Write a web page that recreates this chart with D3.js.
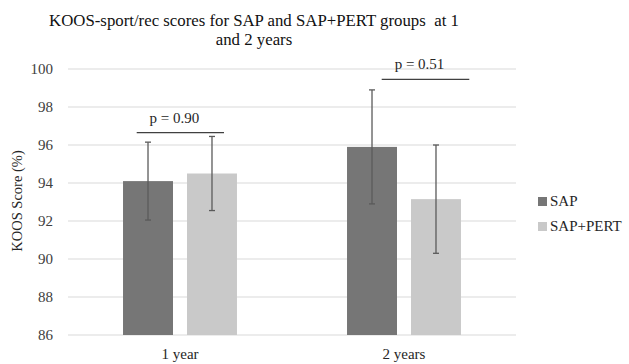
<!DOCTYPE html>
<html>
<head>
<meta charset="utf-8">
<script src="https://cdn.jsdelivr.net/npm/d3@7"></script>
<style>
  body { margin: 0; background: #fff; }
  svg text { font-family: "Liberation Serif", "Times New Roman", Tinos, "DejaVu Serif", serif !important; }
</style>
</head>
<body>
<div id="chart"></div>
<script>
// data
const categories = ["1 year", "2 years"];
const series = ["SAP", "SAP+PERT"];
const sapMeans = [94.1, 95.9];
const sapErr = [2.05, 3.0];
const pertMeans = [94.5, 93.15];
const pertErr = [1.95, 2.85];
const yTicks = [86, 88, 90, 92, 94, 96, 98, 100];
const pLabels = ["p = 0.90", "p = 0.51"];
const pLevels = [96.65, 99.45];
const pLineFrom = [136.7, 381.7];
const pLineTo = [224, 469.3];

const colors = { "SAP": "#767676", "SAP+PERT": "#c9c9c9" };

const width = 629,
  height = 364;
const plot = { left: 68, right: 516, top: 69, bottom: 335 };

const svg = d3
  .select("#chart")
  .append("svg")
  .attr("width", width)
  .attr("height", height);

const y = d3.scaleLinear().domain([86, 100]).range([plot.bottom, plot.top]);
const x0 = d3.scaleBand().domain(categories).range([plot.left, plot.right]);
const x1 = d3
  .scaleBand()
  .domain(series)
  .range([0, x0.bandwidth()])
  .paddingInner(0.219)
  .paddingOuter(0.86);

// gridlines
svg
  .append("g")
  .selectAll("line")
  .data(yTicks)
  .enter()
  .append("line")
  .attr("x1", plot.left)
  .attr("x2", plot.right)
  .attr("y1", (d) => y(d))
  .attr("y2", (d) => y(d))
  .attr("stroke", "#d9d9d9")
  .attr("stroke-width", 1);

// y axis labels
const yAxis = svg
  .append("g")
  .attr("transform", `translate(${plot.left - 15},0)`)
  .call(d3.axisLeft(y).tickValues(yTicks).tickSize(0).tickPadding(0));
yAxis.select(".domain").remove();
yAxis.selectAll("text").attr("font-size", 15).attr("fill", "#404040");

// x axis labels
const xAxis = svg
  .append("g")
  .attr("transform", `translate(0,${plot.bottom + 13})`)
  .call(d3.axisBottom(x0).tickSize(0).tickPadding(0));
xAxis.select(".domain").remove();
xAxis.selectAll("text").attr("font-size", 15).attr("fill", "#262626");

// y title
svg
  .append("text")
  .attr("transform", `translate(22,${(plot.top + plot.bottom) / 2 - 1}) rotate(-90)`)
  .attr("text-anchor", "middle")
  .attr("font-size", 14.5)
  .attr("fill", "#262626")
  .text("KOOS Score (%)");

// title
const title = svg
  .append("text")
  .attr("text-anchor", "middle")
  .attr("font-size", 16.8)
  .attr("fill", "#111");
title.append("tspan").attr("x", 254).attr("y", 26).text("KOOS-sport/rec scores for SAP and SAP+PERT groups\u00a0 at 1");
title.append("tspan").attr("x", 254).attr("y", 45).text("and 2 years");

// bars
const rows = categories.map((c, i) => [
  { cat: c, key: "SAP", mean: sapMeans[i], err: sapErr[i] },
  { cat: c, key: "SAP+PERT", mean: pertMeans[i], err: pertErr[i] },
]);

const groups = svg
  .append("g")
  .selectAll("g")
  .data(rows)
  .enter()
  .append("g")
  .attr("transform", (d) => `translate(${x0(d[0].cat)},0)`);

groups
  .selectAll("rect")
  .data((d) => d)
  .enter()
  .append("rect")
  .attr("x", (d) => x1(d.key))
  .attr("width", x1.bandwidth())
  .attr("y", (d) => y(d.mean))
  .attr("height", (d) => y(86) - y(d.mean))
  .attr("fill", (d) => colors[d.key]);

// error bars
const errs = groups
  .selectAll("g.err")
  .data((d) => d)
  .enter()
  .append("g")
  .attr("class", "err")
  .attr("stroke", "#5a5a5a")
  .attr("stroke-width", 1.3);
const cx = (d) => x1(d.key) + x1.bandwidth() / 2;
errs
  .append("line")
  .attr("x1", cx)
  .attr("x2", cx)
  .attr("y1", (d) => y(d.mean + d.err))
  .attr("y2", (d) => y(d.mean - d.err));
errs
  .append("line")
  .attr("x1", (d) => cx(d) - 3)
  .attr("x2", (d) => cx(d) + 3)
  .attr("y1", (d) => y(d.mean + d.err))
  .attr("y2", (d) => y(d.mean + d.err));
errs
  .append("line")
  .attr("x1", (d) => cx(d) - 3)
  .attr("x2", (d) => cx(d) + 3)
  .attr("y1", (d) => y(d.mean - d.err))
  .attr("y2", (d) => y(d.mean - d.err));

// p-value annotations
const sig = svg
  .append("g")
  .selectAll("g")
  .data(pLabels)
  .enter()
  .append("g");
sig
  .append("line")
  .attr("x1", (d, i) => pLineFrom[i])
  .attr("x2", (d, i) => pLineTo[i])
  .attr("y1", (d, i) => y(pLevels[i]))
  .attr("y2", (d, i) => y(pLevels[i]))
  .attr("stroke", "#404040")
  .attr("stroke-width", 1.2);
sig
  .append("text")
  .attr("x", (d, i) => (pLineFrom[i] + pLineTo[i]) / 2 - 6)
  .attr("y", (d, i) => y(pLevels[i]) - 10)
  .attr("text-anchor", "middle")
  .attr("font-size", 15)
  .attr("fill", "#262626")
  .text((d) => d);

// legend
const legend = svg
  .append("g")
  .selectAll("g")
  .data(series)
  .enter()
  .append("g")
  .attr("transform", (d, i) => `translate(538,${197 + i * 25})`);
legend
  .append("rect")
  .attr("width", 9)
  .attr("height", 9)
  .attr("fill", (d) => colors[d]);
legend
  .append("text")
  .attr("x", 12)
  .attr("y", 9)
  .attr("font-size", 15)
  .attr("fill", "#262626")
  .text((d) => d);
</script>
</body>
</html>
